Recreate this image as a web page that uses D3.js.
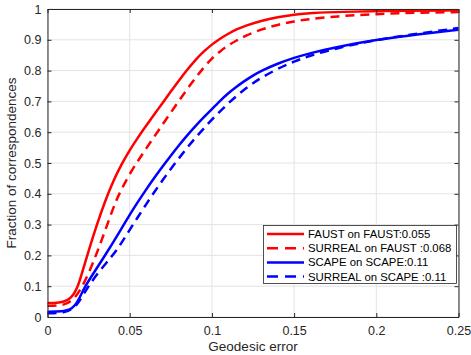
<!DOCTYPE html>
<html><head><meta charset="utf-8">
<script src="https://cdn.jsdelivr.net/npm/d3@7"></script>
<style>body{margin:0;background:#fff}svg{display:block}text{font-family:"Liberation Sans",Arial,sans-serif}</style>
</head><body><svg id="c" width="471" height="355"></svg>
<script>
const xTicks = [0, 0.05, 0.1, 0.15, 0.2, 0.25];
const xTickLabels = ["0", "0.05", "0.1", "0.15", "0.2", "0.25"];
const yTicks = [0, 0.1, 0.2, 0.3, 0.4, 0.5, 0.6, 0.7, 0.8, 0.9, 1];
const yTickLabels = ["0", "0.1", "0.2", "0.3", "0.4", "0.5", "0.6", "0.7", "0.8", "0.9", "1"];
const seriesNames = ["FAUST on FAUST:0.055", "SURREAL on FAUST :0.068", "SCAPE on SCAPE:0.11", "SURREAL on SCAPE :0.11"];
const faustOnFaust = [[0,0.045],[0.006,0.046],[0.01,0.05],[0.013,0.057],[0.016,0.073],[0.0185,0.1],[0.02,0.125],[0.025,0.215],[0.03,0.3],[0.035,0.376],[0.04,0.442],[0.045,0.496],[0.05,0.542],[0.055,0.583],[0.06,0.621],[0.065,0.658],[0.07,0.695],[0.075,0.732],[0.08,0.768],[0.085,0.803],[0.09,0.835],[0.095,0.862],[0.1,0.885],[0.105,0.904],[0.11,0.92],[0.115,0.934],[0.12,0.945],[0.13,0.962],[0.14,0.974],[0.15,0.982],[0.16,0.987],[0.18,0.991],[0.2,0.993],[0.25,0.996]];
const surrealOnFaust = [[0,0.036],[0.006,0.037],[0.01,0.04],[0.014,0.05],[0.017,0.065],[0.0195,0.085],[0.022,0.108],[0.025,0.142],[0.028,0.18],[0.031,0.222],[0.0345,0.272],[0.038,0.325],[0.0415,0.375],[0.045,0.415],[0.05,0.465],[0.055,0.507],[0.06,0.547],[0.065,0.586],[0.07,0.625],[0.075,0.664],[0.08,0.702],[0.085,0.74],[0.09,0.776],[0.095,0.81],[0.1,0.84],[0.105,0.863],[0.11,0.882],[0.115,0.898],[0.12,0.912],[0.13,0.934],[0.14,0.949],[0.15,0.96],[0.16,0.968],[0.175,0.976],[0.2,0.984],[0.225,0.988],[0.25,0.99]];
const scapeOnScape = [[0,0.017],[0.006,0.018],[0.01,0.019],[0.0134,0.023],[0.0165,0.035],[0.0194,0.06],[0.0228,0.1],[0.029,0.15],[0.035,0.2],[0.04,0.243],[0.045,0.287],[0.05,0.332],[0.055,0.374],[0.06,0.414],[0.065,0.452],[0.07,0.489],[0.075,0.524],[0.08,0.558],[0.085,0.59],[0.09,0.62],[0.095,0.648],[0.1,0.675],[0.105,0.702],[0.11,0.727],[0.115,0.748],[0.12,0.767],[0.125,0.784],[0.13,0.799],[0.14,0.823],[0.15,0.842],[0.16,0.857],[0.175,0.876],[0.2,0.9],[0.225,0.918],[0.25,0.933]];
const surrealOnScape = [[0,0.012],[0.006,0.013],[0.01,0.015],[0.014,0.022],[0.018,0.04],[0.021,0.065],[0.0248,0.1],[0.032,0.152],[0.0397,0.2],[0.045,0.24],[0.05,0.283],[0.055,0.325],[0.06,0.366],[0.065,0.406],[0.07,0.444],[0.075,0.481],[0.08,0.516],[0.085,0.55],[0.09,0.582],[0.095,0.612],[0.1,0.641],[0.105,0.668],[0.11,0.694],[0.115,0.718],[0.12,0.74],[0.125,0.759],[0.13,0.777],[0.14,0.806],[0.15,0.83],[0.16,0.849],[0.175,0.872],[0.2,0.9],[0.225,0.92],[0.25,0.938]];

const series = [
  {name: seriesNames[0], data: faustOnFaust, color: "#ff0000", dash: null},
  {name: seriesNames[1], data: surrealOnFaust, color: "#ff0000", dash: "9,6"},
  {name: seriesNames[2], data: scapeOnScape, color: "#0000ff", dash: null},
  {name: seriesNames[3], data: surrealOnScape, color: "#0000ff", dash: "9,6"}
];

const L = 47.5, R = 458.5, T = 9, B = 317;
const svg = d3.select("#c");
const x = d3.scaleLinear().domain([0, 0.25]).range([L, R]);
const y = d3.scaleLinear().domain([0, 1]).range([B, T]);
const axisCol = "#262626";

// grid
const g = svg.append("g");
g.selectAll("line.vx").data(xTicks).enter().append("line")
  .attr("x1", d => x(d)).attr("x2", d => x(d)).attr("y1", T).attr("y2", B)
  .attr("stroke", "#e3e3e3").attr("stroke-width", 1);
g.selectAll("line.hy").data(yTicks).enter().append("line")
  .attr("x1", L).attr("x2", R).attr("y1", d => y(d)).attr("y2", d => y(d))
  .attr("stroke", "#e3e3e3").attr("stroke-width", 1);

// lines
const line = d3.line().x(d => x(d[0])).y(d => y(d[1])).curve(d3.curveBasis);
series.forEach(s => {
  svg.append("path").attr("d", line(s.data)).attr("fill", "none")
    .attr("stroke", s.color).attr("stroke-width", 2.5)
    .attr("stroke-dasharray", s.dash);
});

// axes
const xb = d3.axisBottom(x).tickValues(xTicks).tickFormat((d,i) => xTickLabels[i]).tickSizeInner(-4).tickSizeOuter(0).tickPadding(9);
const yl = d3.axisLeft(y).tickValues(yTicks).tickFormat((d,i) => yTickLabels[i]).tickSizeInner(-4).tickSizeOuter(0).tickPadding(6);
const xt = d3.axisTop(x).tickValues(xTicks).tickFormat("").tickSizeInner(-4).tickSizeOuter(0);
const yr = d3.axisRight(y).tickValues(yTicks).tickFormat("").tickSizeInner(-4).tickSizeOuter(0);
function style(sel){
  sel.selectAll("path").attr("stroke", axisCol).attr("stroke-width", 1);
  sel.selectAll("line").attr("stroke", axisCol);
  sel.selectAll("text").attr("fill", axisCol).style("font-size", "12.5px").style("font-family", "'Liberation Sans', Arial, sans-serif");
}
svg.append("g").attr("transform", `translate(0,${B})`).call(xb).call(style);
svg.append("g").attr("transform", `translate(${L},0)`).call(yl).call(style);
svg.append("g").attr("transform", `translate(0,${T})`).call(xt).call(style);
svg.append("g").attr("transform", `translate(${R},0)`).call(yr).call(style);

// axis labels
svg.append("text").attr("x", (L+R)/2).attr("y", 351).attr("text-anchor", "middle")
  .attr("fill", axisCol).style("font-size", "13.5px").text("Geodesic error");
svg.append("text").attr("transform", `translate(16,${(T+B)/2}) rotate(-90)`).attr("text-anchor", "middle")
  .attr("fill", axisCol).style("font-size", "13.5px").text("Fraction of correspondences");

// legend
const lg = svg.append("g");
lg.append("rect").attr("x", 263.5).attr("y", 225.5).attr("width", 193).attr("height", 58)
  .attr("fill", "#fff").attr("stroke", "#262626").attr("stroke-width", 0.8);
const texts = [];
series.forEach((s, i) => {
  const yy = 234 + i * 14.2;
  lg.append("line").attr("x1", 267).attr("x2", 304).attr("y1", yy).attr("y2", yy)
    .attr("stroke", s.color).attr("stroke-width", 2.5).attr("stroke-dasharray", s.dash ? "11,7" : null);
  texts.push(lg.append("text").attr("x", 308).attr("y", yy + 4).attr("fill", "#000")
    .style("font-size", "11.3px").text(s.name));
});
const w = texts[1].node().getComputedTextLength();
const fs = Math.min(12.5, Math.max(10, 11.3 * 143.5 / w));
texts.forEach(t => t.style("font-size", fs + "px"));
</script></body></html>
